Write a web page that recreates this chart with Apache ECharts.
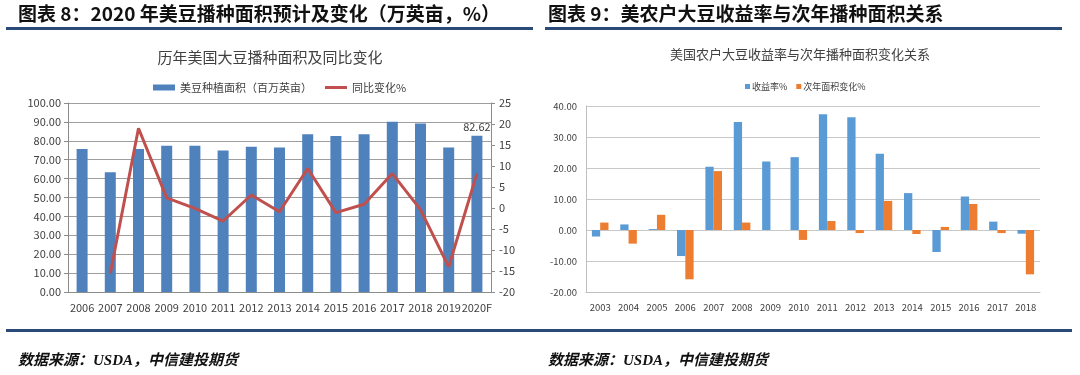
<!DOCTYPE html>
<html>
<head>
    <meta charset="utf-8">
    <title>美豆播种面积</title>
    <style>
        html, body { margin: 0; padding: 0; background: #fff; }
        #main { width: 1080px; height: 375px; }
    </style>
</head>
<body>
<div id="main"></div>
<script src="https://cdn.jsdelivr.net/npm/echarts@6/dist/echarts.min.js"></script>
<script type="text/javascript">
    // 图表8：历年美国大豆播种面积（百万英亩）及同比变化%
    var areaYears = ['2006', '2007', '2008', '2009', '2010', '2011', '2012', '2013', '2014', '2015', '2016', '2017', '2018', '2019', '2020F'];
    var plantedArea = [75.6, 63.4, 75.7, 77.4, 77.4, 74.9, 76.8, 76.5, 83.4, 82.5, 83.4, 90.1, 89.2, 76.5, 82.62];
    var yoyChange = [null, -15.6, 19.0, 2.4, -0.1, -3.1, 3.1, -0.9, 9.4, -1.1, 0.9, 8.2, -0.4, -14.0, 8.2];

    // 图表9：美国农户大豆收益率与次年播种面积变化
    var profitYears = ['2003', '2004', '2005', '2006', '2007', '2008', '2009', '2010', '2011', '2012', '2013', '2014', '2015', '2016', '2017', '2018'];
    var profitRate = [-2.1, 1.8, 0.3, -8.4, 20.4, 34.8, 22.1, 23.5, 37.3, 36.4, 24.6, 11.9, -7.1, 10.8, 2.7, -1.2];
    var nextAreaChange = [2.4, -4.4, 4.9, -15.9, 19.0, 2.4, 0, -3.2, 2.9, -1.0, 9.4, -1.3, 1.0, 8.4, -1.0, -14.3];

    var FONT = '"Noto Sans CJK SC", "Noto Sans", sans-serif';
    var navy = '#2C4A78';

    var myChart = echarts.init(document.getElementById('main'));

    myChart.setOption({
        backgroundColor: '#fff',
        textStyle: { fontFamily: FONT },
        animation: false,
        graphic: [
            // 页眉标题与分隔线
            { type: 'text', style: { x: 18, y: 14, text: '图表 8：2020 年美豆播种面积预计及变化（万英亩，%）', font: 'bold 19px ' + FONT, fill: '#111', verticalAlign: 'middle' } },
            { type: 'rect', shape: { x: 6, y: 27, width: 527, height: 3 }, style: { fill: navy } },
            { type: 'text', style: { x: 548, y: 14, text: '图表 9：美农户大豆收益率与次年播种面积关系', font: 'bold 19px ' + FONT, fill: '#111', verticalAlign: 'middle' } },
            { type: 'rect', shape: { x: 545, y: 27, width: 517, height: 3 }, style: { fill: navy } },
            // 图内标题
            { type: 'text', style: { x: 270, y: 57, text: '历年美国大豆播种面积及同比变化', font: '15px ' + FONT, fill: '#404040', align: 'center', verticalAlign: 'middle' } },
            { type: 'text', style: { x: 800, y: 54, text: '美国农户大豆收益率与次年播种面积变化关系', font: '13px ' + FONT, fill: '#404040', align: 'center', verticalAlign: 'middle' } },
            // 底部线与数据来源
            { type: 'rect', shape: { x: 6, y: 329, width: 1066, height: 3 }, style: { fill: navy } },
            { type: 'text', style: { x: 18, y: 361, text: '数据来源：USDA，中信建投期货', font: 'italic bold 15px "Liberation Serif", ' + FONT, fill: '#111', verticalAlign: 'middle' } },
            { type: 'text', style: { x: 548, y: 361, text: '数据来源：USDA，中信建投期货', font: 'italic bold 15px "Liberation Serif", ' + FONT, fill: '#111', verticalAlign: 'middle' } }
        ],
        legend: [
            {
                left: 148, top: 77, itemWidth: 22, itemHeight: 6,
                textStyle: { fontSize: 11, color: '#404040' },
                data: [{ name: '美豆种植面积（百万英亩）', icon: 'rect' }]
            },
            {
                left: 320, top: 77, itemWidth: 22, itemHeight: 3,
                textStyle: { fontSize: 11, color: '#404040' },
                data: [{ name: '同比变化%', icon: 'rect' }]
            },
            {
                left: 740, top: 77, itemWidth: 5, itemHeight: 5, itemGap: 9,
                textStyle: { fontSize: 9, color: '#404040', padding: [0, 0, 0, -3] },
                data: [{ name: '收益率%', icon: 'rect' }, { name: '次年面积变化%', icon: 'rect' }]
            }
        ],
        grid: [
            { left: 68, right: 589, top: 103, bottom: 83 },
            { left: 586, right: 40, top: 106, bottom: 83 }
        ],
        xAxis: [
            {
                gridIndex: 0, type: 'category', data: areaYears,
                axisLine: { lineStyle: { color: '#8C8C8C' } },
                axisTick: { show: false },
                axisLabel: { color: '#404040', fontSize: 11, margin: 10, interval: 0 }
            },
            {
                gridIndex: 1, type: 'category', data: profitYears,
                axisLine: { onZero: false, lineStyle: { color: '#BFBFBF' } },
                axisTick: { show: false },
                axisLabel: { color: '#404040', fontSize: 9.5, margin: 11, interval: 0 }
            }
        ],
        yAxis: [
            {
                gridIndex: 0, type: 'value', min: 0, max: 100, interval: 10,
                axisLine: { show: true, lineStyle: { color: '#8C8C8C' } },
                axisTick: { show: true, length: 4, lineStyle: { color: '#8C8C8C' } },
                splitLine: { lineStyle: { color: '#9E9E9E' } },
                axisLabel: { color: '#404040', fontSize: 11, margin: 7, formatter: function (v) { return v.toFixed(2); } }
            },
            {
                gridIndex: 0, type: 'value', position: 'right', min: -20, max: 25, interval: 5,
                axisLine: { show: true, lineStyle: { color: '#8C8C8C' } },
                axisTick: { show: true, length: 4, lineStyle: { color: '#8C8C8C' } },
                splitLine: { show: false },
                axisLabel: { color: '#404040', fontSize: 11, margin: 8 }
            },
            {
                gridIndex: 1, type: 'value', min: -20, max: 40, interval: 10,
                axisLine: { show: true, lineStyle: { color: '#BFBFBF' } },
                axisTick: { show: false },
                splitLine: { lineStyle: { color: '#C8C8C8' } },
                axisLabel: { color: '#404040', fontSize: 9.5, margin: 9, formatter: function (v) { return v.toFixed(2); } }
            }
        ],
        series: [
            {
                name: '美豆种植面积（百万英亩）', type: 'bar',
                xAxisIndex: 0, yAxisIndex: 0,
                data: plantedArea, barWidth: 11,
                itemStyle: { color: '#4F81BD' },
                label: {
                    show: true, position: 'top', distance: 4, color: '#404040', fontSize: 11,
                    formatter: function (p) { return p.dataIndex === areaYears.length - 1 ? p.value.toFixed(2) : ''; }
                }
            },
            {
                name: '同比变化%', type: 'line',
                xAxisIndex: 0, yAxisIndex: 1,
                data: yoyChange, symbol: 'none',
                lineStyle: { color: '#C0504D', width: 3 },
                itemStyle: { color: '#C0504D' }
            },
            {
                name: '收益率%', type: 'bar',
                xAxisIndex: 1, yAxisIndex: 2,
                data: profitRate, barWidth: 8.3, barGap: '0%',
                itemStyle: { color: '#5B9BD5' }
            },
            {
                name: '次年面积变化%', type: 'bar',
                xAxisIndex: 1, yAxisIndex: 2,
                data: nextAreaChange, barWidth: 8.3, barGap: '0%',
                itemStyle: { color: '#ED7D31' }
            }
        ]
    });
</script>
</body>
</html>
